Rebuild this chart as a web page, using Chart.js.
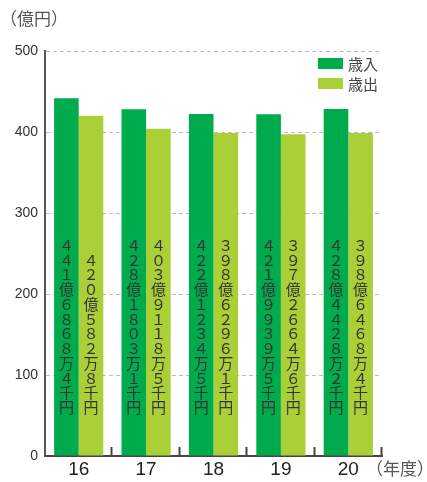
<!DOCTYPE html>
<html>
<head>
<meta charset="utf-8">
<script src="https://cdn.jsdelivr.net/npm/chart.js"></script>
<style>
  html, body { margin: 0; padding: 0; background: #fff; }
  #wrap { width: 427px; height: 482px; position: relative; }
</style>
</head>
<body>
<div id="wrap"><canvas id="budget-chart"></canvas></div>
<script>
// 年度
const years = ['16', '17', '18', '19', '20'];
// 歳入・歳出（億円）
const revenue = [441.6868, 428.1803, 422.1234, 421.9939, 428.4428];
const expenditure = [420.0583, 403.9118, 398.6296, 397.2664, 398.6468];
// 棒の中の縦書きラベル
const revenueLabels = ['４４１億６８６８万４千円', '４２８億１８０３万１千円', '４２２億１２３４万５千円', '４２１億９９３９万５千円', '４２８億４４２８万２千円'];
const expenditureLabels = ['４２０億５８２万８千円', '４０３億９１１８万５千円', '３９８億６２９６万１千円', '３９７億２６６４万６千円', '３９８億６４６８万４千円'];
// 目盛り
const yTicks = [0, 100, 200, 300, 400, 500];

const COLOR_IN = '#00ab4e';
const COLOR_OUT = '#abcf37';
const CJK = '"Noto Sans CJK JP", "Noto Sans", sans-serif';

// 棒の中に縦書きで金額を描く
const verticalLabels = {
    id: 'verticalLabels',
    afterDatasetsDraw(chart) {
        const ctx = chart.ctx;
        const sets = [revenueLabels, expenditureLabels];
        ctx.save();
        ctx.fillStyle = '#333';
        ctx.font = '15px ' + CJK;
        ctx.textAlign = 'center';
        ctx.textBaseline = 'middle';
        sets.forEach((labels, di) => {
            const meta = chart.getDatasetMeta(di);
            meta.data.forEach((bar, i) => {
                const chars = Array.from(labels[i]);
                const last = bar.base - 48;
                chars.forEach((ch, k) => {
                    ctx.fillText(ch, bar.x, last - (chars.length - 1 - k) * 14.75);
                });
            });
        });
        ctx.restore();
    }
};

// 凡例・単位・区切り目盛り
const decorations = {
    id: 'decorations',
    afterDraw(chart) {
        const ctx = chart.ctx;
        const xs = chart.scales.x;
        ctx.save();
        // x軸の区切り（上向き）
        ctx.strokeStyle = '#444';
        ctx.lineWidth = 2;
        const step = (xs.right - xs.left) / years.length;
        for (let i = 1; i <= years.length; i++) {
            const x = Math.round(xs.left + i * step) - 0.5;
            ctx.beginPath();
            ctx.moveTo(x, xs.top);
            ctx.lineTo(x, xs.top - 9);
            ctx.stroke();
        }
        // 凡例
        const items = [['歳入', COLOR_IN], ['歳出', COLOR_OUT]];
        ctx.font = '15px ' + CJK;
        ctx.textBaseline = 'middle';
        ctx.textAlign = 'left';
        items.forEach((it, k) => {
            const y = 58 + k * 20;
            ctx.fillStyle = it[1];
            ctx.fillRect(318, y, 25, 11);
            ctx.fillStyle = '#444';
            ctx.fillText(it[0], 348, y + 6);
        });
        // 単位
        ctx.font = '17px ' + CJK;
        ctx.fillStyle = '#555';
        ctx.fillText('（億円）', 0, 19);
        ctx.fillText('（年度）', 366, 469);
        ctx.restore();
    }
};

new Chart(document.getElementById('budget-chart'), {
    type: 'bar',
    data: {
        labels: years,
        datasets: [
            {
                label: '歳入',
                data: revenue,
                backgroundColor: COLOR_IN,
                categoryPercentage: 0.73,
                barPercentage: 1
            },
            {
                label: '歳出',
                data: expenditure,
                backgroundColor: COLOR_OUT,
                categoryPercentage: 0.73,
                barPercentage: 1
            }
        ]
    },
    options: {
        responsive: true,
        maintainAspectRatio: false,
        animation: false,
        layout: { padding: { top: 51, right: 45, left: 0, bottom: 0 } },
        plugins: {
            legend: { display: false },
            tooltip: { enabled: false }
        },
        scales: {
            x: {
                grid: { display: false, drawTicks: false },
                border: { display: true, color: '#444', width: 2 },
                ticks: {
                    color: '#222',
                    padding: 2,
                    font: { family: 'Liberation Sans, Arial, sans-serif', size: 19 }
                },
                afterFit: (scale) => { scale.height = 26; }
            },
            y: {
                min: 0,
                max: 500,
                afterBuildTicks: (scale) => { scale.ticks = yTicks.map(v => ({ value: v })); },
                grid: {
                    color: (c) => c.tick && c.tick.value === 0 ? 'rgba(0,0,0,0)' : '#bdbdbd',
                    lineWidth: 1,
                    tickLength: 0
                },
                border: { display: true, color: '#555', width: 2, dash: [4, 3] },
                ticks: {
                    color: '#333',
                    padding: 7,
                    font: { family: 'Liberation Sans, Arial, sans-serif', size: 14 }
                },
                afterFit: (scale) => { scale.width = 45; }
            }
        }
    },
    plugins: [verticalLabels, decorations]
});
</script>
</body>
</html>
